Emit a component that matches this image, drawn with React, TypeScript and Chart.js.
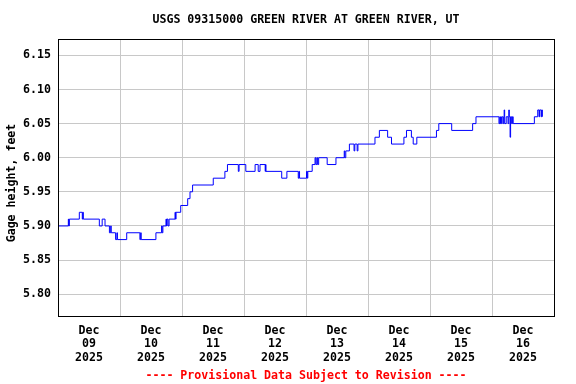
import React, { useEffect, useRef } from 'react';
import { Chart, registerables } from 'chart.js';

Chart.register(...registerables);

const chartTitle = 'USGS 09315000 GREEN RIVER AT GREEN RIVER, UT';
const yAxisTitle = 'Gage height, feet';
const footnote = '---- Provisional Data Subject to Revision ----';
const monthLabel = 'Dec';
const yearLabel = '2025';
const dayLabels = ['09', '10', '11', '12', '13', '14', '15', '16'];
const yTicks = [5.8, 5.85, 5.9, 5.95, 6.0, 6.05, 6.1, 6.15];

// hours since Dec 09 2025 00:00
const hours = [
  0, 4.0, 4.15, 4.4, 8.25, 9.4, 9.6, 9.8, 16.0, 17.1, 18.2, 19.9, 20.4, 20.6, 22.3, 22.8, 23.0,
  26.6, 31.7, 32.0, 32.2, 37.9, 40.1, 40.3, 40.6, 41.8, 42.0, 42.2, 42.6, 43.0, 45.3, 45.5, 45.7,
  47.5, 50.2, 51.1, 52.1, 60.1, 64.6, 65.6, 69.8, 70.1, 72.7, 76.3, 77.5, 78.2, 80.2, 80.35, 80.5,
  86.6, 88.6, 93.0, 93.3, 93.5, 96.2, 96.5, 96.7, 98.4, 99.5, 99.8, 100.2, 100.5, 100.9, 104.2,
  107.6, 110.8, 111.0, 111.4, 112.8, 114.6, 114.9, 115.8, 116.1, 122.7, 124.4, 127.6, 129.1,
  133.9, 134.9, 136.8, 137.5, 138.9, 146.5, 147.4, 152.4, 160.5, 161.8, 170.7, 171.0, 171.3,
  171.7, 172.2, 172.5, 172.7, 172.9, 173.5, 174.2, 174.5, 174.7, 175.0, 175.2, 175.6, 175.9,
  176.2, 184.4, 185.7, 186.2, 186.4, 187.0, 187.2, 187.5,
];
const gageHeight = [
  5.9, 5.91, 5.9, 5.91, 5.92, 5.91, 5.92, 5.91, 5.9, 5.91, 5.9, 5.89, 5.9, 5.89, 5.88, 5.89, 5.88,
  5.89, 5.88, 5.89, 5.88, 5.89, 5.9, 5.89, 5.9, 5.91, 5.9, 5.91, 5.9, 5.91, 5.92, 5.91, 5.92,
  5.93, 5.94, 5.95, 5.96, 5.97, 5.98, 5.99, 5.98, 5.99, 5.98, 5.99, 5.98, 5.99, 5.98, 5.99, 5.98,
  5.97, 5.98, 5.97, 5.98, 5.97, 5.98, 5.97, 5.98, 5.99, 6.0, 5.99, 6.0, 5.99, 6.0, 5.99,
  6.0, 6.01, 6.0, 6.01, 6.02, 6.01, 6.02, 6.01, 6.02, 6.03, 6.04, 6.03, 6.02,
  6.03, 6.04, 6.03, 6.02, 6.03, 6.04, 6.05, 6.04, 6.05, 6.06, 6.05, 6.06, 6.05,
  6.06, 6.05, 6.06, 6.07, 6.05, 6.06, 6.05, 6.07, 6.06, 6.03, 6.06, 6.05, 6.06,
  6.05, 6.06, 6.07, 6.06, 6.07, 6.06, 6.07, 6.06,
];

const FONT = '"DejaVu Sans Mono", monospace';
const FONT_SIZE = 11.6;

export default function App() {
  const ref = useRef<HTMLCanvasElement | null>(null);

  useEffect(() => {
    if (!ref.current) return;
    const textPlugin = {
      id: 'usgsText',
      afterDraw(chart: any) {
        const { ctx, chartArea } = chart;
        ctx.save();
        // plot frame
        ctx.strokeStyle = '#000000';
        ctx.lineWidth = 1;
        ctx.strokeRect(
          chartArea.left + 0.5,
          chartArea.top + 0.5,
          chartArea.right - chartArea.left,
          chartArea.bottom - chartArea.top
        );
        const cx = (chartArea.left + chartArea.right) / 2;
        ctx.font = `bold ${FONT_SIZE}px ${FONT}`;
        ctx.textAlign = 'center';
        ctx.textBaseline = 'middle';
        ctx.fillStyle = '#000000';
        ctx.fillText(chartTitle, cx, 20);
        ctx.fillStyle = '#ff0000';
        ctx.fillText(footnote, cx, 376);
        ctx.fillStyle = '#000000';
        ctx.translate(12, 183);
        ctx.rotate(-Math.PI / 2);
        ctx.fillText(yAxisTitle, 0, 0);
        ctx.restore();
      },
    };

    const chart = new Chart(ref.current, {
      type: 'line',
      data: {
        datasets: [
          {
            data: hours.map((h, i) => ({ x: h, y: gageHeight[i] })),
            borderColor: '#0000ff',
            borderWidth: 1,
            pointRadius: 0,
            stepped: true,
            fill: false,
          },
        ],
      },
      options: {
        animation: false,
        responsive: false,
        devicePixelRatio: 1,
        layout: { autoPadding: false, padding: { top: 39, right: 22, left: 0, bottom: 0 } },
        plugins: {
          legend: { display: false },
          tooltip: { enabled: false },
          title: { display: false },
        },
        scales: {
          x: {
            type: 'linear',
            min: 0,
            max: 192,
            afterFit: (scale: any) => {
              scale.height = 68;
            },
            afterBuildTicks: (scale: any) => {
              const t = [];
              for (let v = 0; v <= 192; v += 12) t.push({ value: v });
              scale.ticks = t;
            },
            border: { display: false },
            grid: {
              drawTicks: false,
              lineWidth: 1,
              color: (ctx: any) =>
                ctx.tick && ctx.tick.value % 24 === 0 ? '#c8c8c8' : 'rgba(0,0,0,0)',
            },
            ticks: {
              autoSkip: false,
              maxRotation: 0,
              minRotation: 0,
              padding: 8,
              color: '#000000',
              font: { family: FONT, size: FONT_SIZE, weight: 'bold', lineHeight: 13.4 / FONT_SIZE },
              callback: (value: any) => {
                const v = Number(value);
                if (v % 24 !== 12) return '';
                const d = dayLabels[Math.floor(v / 24)];
                return [monthLabel, d, yearLabel];
              },
            },
          },
          y: {
            type: 'linear',
            min: 5.768,
            max: 6.174,
            afterFit: (scale: any) => {
              scale.width = 58;
            },
            afterBuildTicks: (scale: any) => {
              scale.ticks = yTicks.map((v) => ({ value: v }));
            },
            border: { display: false },
            grid: { drawTicks: false, color: '#c8c8c8', lineWidth: 1 },
            ticks: {
              padding: 7,
              color: '#000000',
              font: { family: FONT, size: FONT_SIZE, weight: 'bold' },
              callback: (value: any) => Number(value).toFixed(2),
            },
          },
        },
      },
      plugins: [textPlugin],
    } as any);

    return () => chart.destroy();
  }, []);

  return (
    <div style={{ position: 'fixed', left: 0, top: 0, width: 576, height: 384, background: '#ffffff' }}>
      <canvas ref={ref} width={576} height={384} style={{ display: 'block', width: 576, height: 384 }} />
    </div>
  );
}
